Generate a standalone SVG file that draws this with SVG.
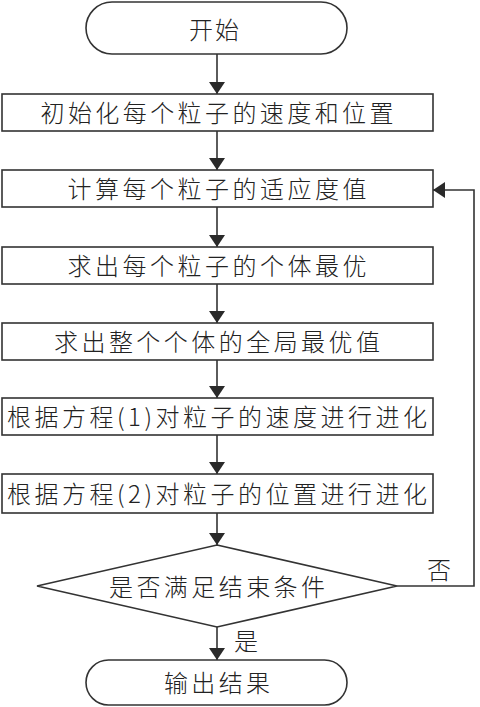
<svg xmlns="http://www.w3.org/2000/svg" width="480" height="707" viewBox="0 0 480 707">
<style>
.s{fill:#fff;stroke:#333;stroke-width:1.6}
.t{font-family:"Noto Sans CJK SC","Noto Sans",sans-serif;font-size:24px;font-weight:300;fill:#222;text-anchor:middle;dominant-baseline:central}
.c{fill:none;stroke:#333;stroke-width:1.6}
</style>
<defs>
<marker id="ah" viewBox="0 0 12 16" refX="12" refY="8" markerWidth="12" markerHeight="16" markerUnits="userSpaceOnUse" orient="auto">
<path d="M0,0 L12,8 L0,16 Z" fill="#2a2a2a"/>
</marker>
</defs>
<rect width="480" height="707" fill="#fff"/>
<g id="connectors">
<line class="c" x1="217" y1="54" x2="217" y2="94" marker-end="url(#ah)"/>
<line class="c" x1="217" y1="131" x2="217" y2="170" marker-end="url(#ah)"/>
<line class="c" x1="217" y1="207" x2="217" y2="247" marker-end="url(#ah)"/>
<line class="c" x1="217" y1="284" x2="217" y2="323" marker-end="url(#ah)"/>
<line class="c" x1="217" y1="360" x2="217" y2="398" marker-end="url(#ah)"/>
<line class="c" x1="217" y1="435" x2="217" y2="474" marker-end="url(#ah)"/>
<line class="c" x1="217" y1="513" x2="217" y2="545" marker-end="url(#ah)"/>
<line class="c" x1="217" y1="627" x2="217" y2="660" marker-end="url(#ah)"/>
<polyline class="c" points="397,586 474,586 474,190 433,190" marker-end="url(#ah)"/>
<text class="t" x="439" y="568">否</text>
<text class="t" x="246" y="639">是</text>
</g>
<g id="start">
<rect class="s" x="86" y="2" width="261" height="52" rx="26" ry="26"/>
<text class="t" x="214" y="28" textLength="50">开始</text>
</g>
<g id="init">
<rect class="s" x="2" y="94" width="431" height="37"/>
<text class="t" x="217" y="111" textLength="353">初始化每个粒子的速度和位置</text>
</g>
<g id="fitness">
<rect class="s" x="2" y="170" width="431" height="37"/>
<text class="t" x="217" y="187" textLength="299">计算每个粒子的适应度值</text>
</g>
<g id="pbest">
<rect class="s" x="2" y="247" width="431" height="37"/>
<text class="t" x="217" y="264" textLength="299">求出每个粒子的个体最优</text>
</g>
<g id="gbest">
<rect class="s" x="2" y="323" width="431" height="37"/>
<text class="t" x="217" y="340" textLength="326">求出整个个体的全局最优值</text>
</g>
<g id="velocity">
<rect class="s" x="2" y="398" width="431" height="37"/>
<text class="t" x="217" y="415" textLength="420">根据方程(1)对粒子的速度进行进化</text>
</g>
<g id="position">
<rect class="s" x="2" y="474" width="431" height="39"/>
<text class="t" x="217" y="492" textLength="420">根据方程(2)对粒子的位置进行进化</text>
</g>
<g id="decision">
<polygon class="s" points="217,545 397,586 217,627 37,586"/>
<text class="t" x="217" y="585" textLength="216">是否满足结束条件</text>
</g>
<g id="end">
<rect class="s" x="86" y="660" width="261" height="45" rx="22.5" ry="22.5"/>
<text class="t" x="217" y="681" textLength="106">输出结果</text>
</g>
</svg>
